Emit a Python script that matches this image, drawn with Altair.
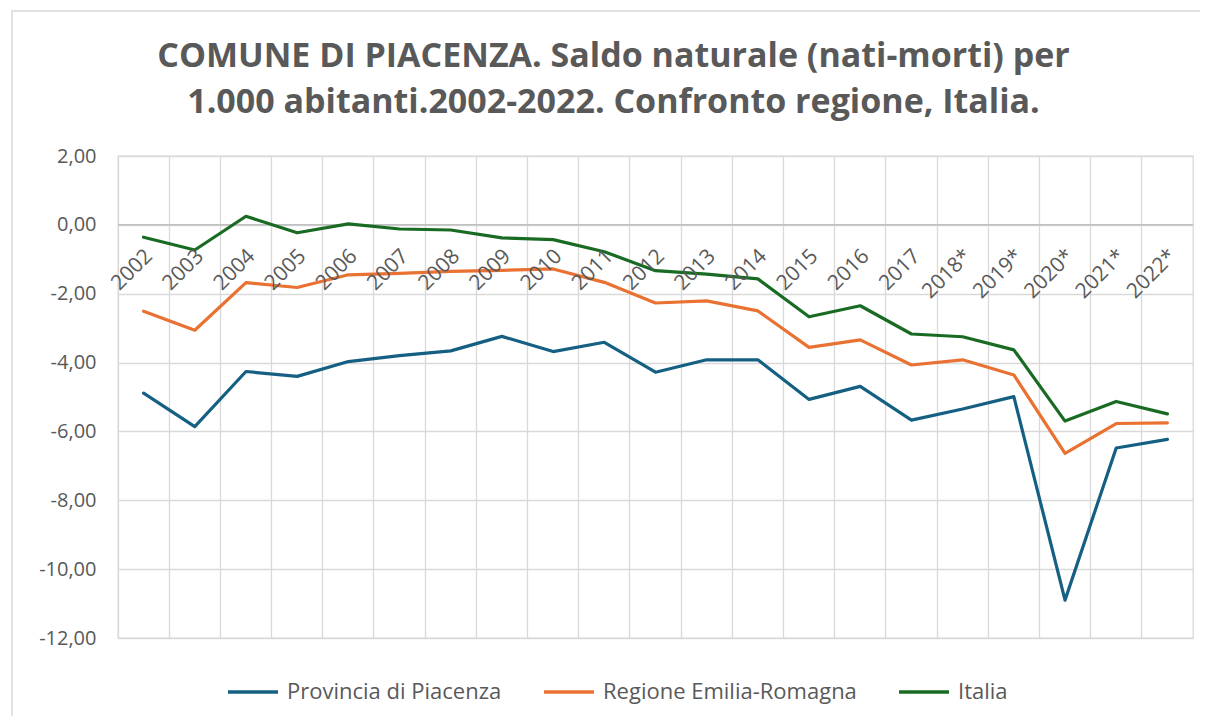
import altair as alt
import pandas as pd

anni = ["2002", "2003", "2004", "2005", "2006", "2007", "2008", "2009", "2010",
        "2011", "2012", "2013", "2014", "2015", "2016", "2017", "2018*", "2019*",
        "2020*", "2021*", "2022*"]
provincia = [-4.89, -5.86, -4.26, -4.40, -3.97, -3.80, -3.66, -3.24, -3.68, -3.41,
             -4.28, -3.92, -3.92, -5.07, -4.69, -5.67, -5.35, -4.99, -10.90, -6.48, -6.23]
regione = [-2.51, -3.06, -1.68, -1.82, -1.45, -1.41, -1.35, -1.32, -1.28, -1.67,
           -2.27, -2.21, -2.50, -3.56, -3.34, -4.07, -3.92, -4.36, -6.64, -5.77, -5.75]
italia = [-0.36, -0.73, 0.25, -0.23, 0.03, -0.12, -0.15, -0.38, -0.43, -0.78,
          -1.33, -1.43, -1.57, -2.67, -2.35, -3.17, -3.25, -3.63, -5.70, -5.13, -5.49]
serie = ["Provincia di Piacenza", "Regione Emilia-Romagna", "Italia"]
colori = ["#156082", "#E97132", "#196B24"]
y_ticks = [2, 0, -2, -4, -6, -8, -10, -12]

rows = []
for nome, vals in zip(serie, [provincia, regione, italia]):
    for a, v in zip(anni, vals):
        rows.append({"anno": a, "serie": nome, "valore": v})
df = pd.DataFrame(rows)
df_lab = pd.DataFrame({"anno": anni})

FONT = "Open Sans"
GREY = "#595959"

x_enc = alt.X("anno:N", sort=anni,
              scale=alt.Scale(type="band", paddingInner=0, paddingOuter=0),
              axis=alt.Axis(labels=False, ticks=False, domain=False, title=None,
                            grid=True, gridColor="#D9D9D9", gridWidth=1.3,
                            bandPosition=0))
y_scale = alt.Scale(domain=[-12, 2], nice=False, zero=False)

lines = alt.Chart(df).mark_line(strokeWidth=3.2, strokeCap="round", strokeJoin="round").encode(
    x=x_enc,
    y=alt.Y("valore:Q", scale=y_scale,
            axis=alt.Axis(values=y_ticks, title=None, domain=False, ticks=False,
                          labelExpr="replace(replace(format(datum.value, '.2f'), '.', ','), '\u2212', '-')",
                          labelFontSize=20, labelColor=GREY, labelFont=FONT,
                          labelPadding=22, gridColor="#D9D9D9", gridWidth=1.3)),
    color=alt.Color("serie:N", sort=serie,
                    scale=alt.Scale(domain=serie, range=colori),
                    legend=alt.Legend(title=None, orient="none", direction="horizontal",
                                      legendX=108, legendY=509,
                                      symbolType="stroke", symbolSize=2500,
                                      symbolStrokeWidth=3.5, labelFontSize=22,
                                      labelFont=FONT, labelColor=GREY, labelLimit=500,
                                      labelOffset=7, columnPadding=35)),
    order=alt.value(0),
)

zero_rule = alt.Chart(pd.DataFrame({"v": [0]})).mark_rule(color="#BFBFBF", strokeWidth=1.5).encode(
    y=alt.Y("v:Q", scale=y_scale)
)

labels = alt.Chart(df_lab).mark_text(angle=315, align="right", baseline="top",
                                     fontSize=21, font=FONT, color=GREY,
                                     dx=-16, dy=13).encode(
    x=alt.X("anno:N", sort=anni, scale=alt.Scale(type="band", paddingInner=0, paddingOuter=0)),
    y=alt.datum(0, scale=y_scale),
    text="anno:N",
)

# outer chart-area frame (decorative, Excel style)
frame = alt.Chart(pd.DataFrame({"f": [0]})).mark_rect(
    fill=None, fillOpacity=0, stroke="#D9D9D9", strokeWidth=1.5
).encode(
    x=alt.value(-106), x2=alt.value(1300),
    y=alt.value(-145), y2=alt.value(600),
)

chart = alt.layer(frame, zero_rule, lines, labels).properties(
    width=1075, height=482,
    title=alt.TitleParams(
        text=["COMUNE DI PIACENZA. Saldo naturale (nati-morti) per",
              "1.000 abitanti.2002-2022. Confronto regione, Italia."],
        fontSize=34, font=FONT, fontWeight="bold", color=GREY,
        anchor="middle", frame="group", dx=-42, offset=-110, lineHeight=46),
    autosize=alt.AutoSizeParams(type="none"),
    padding={"left": 110, "top": 148, "right": 7, "bottom": 78},
).configure_view(stroke="#D9D9D9", strokeWidth=1.3)

chart.save("out.html", embed_options={"renderer": "svg", "actions": False})
